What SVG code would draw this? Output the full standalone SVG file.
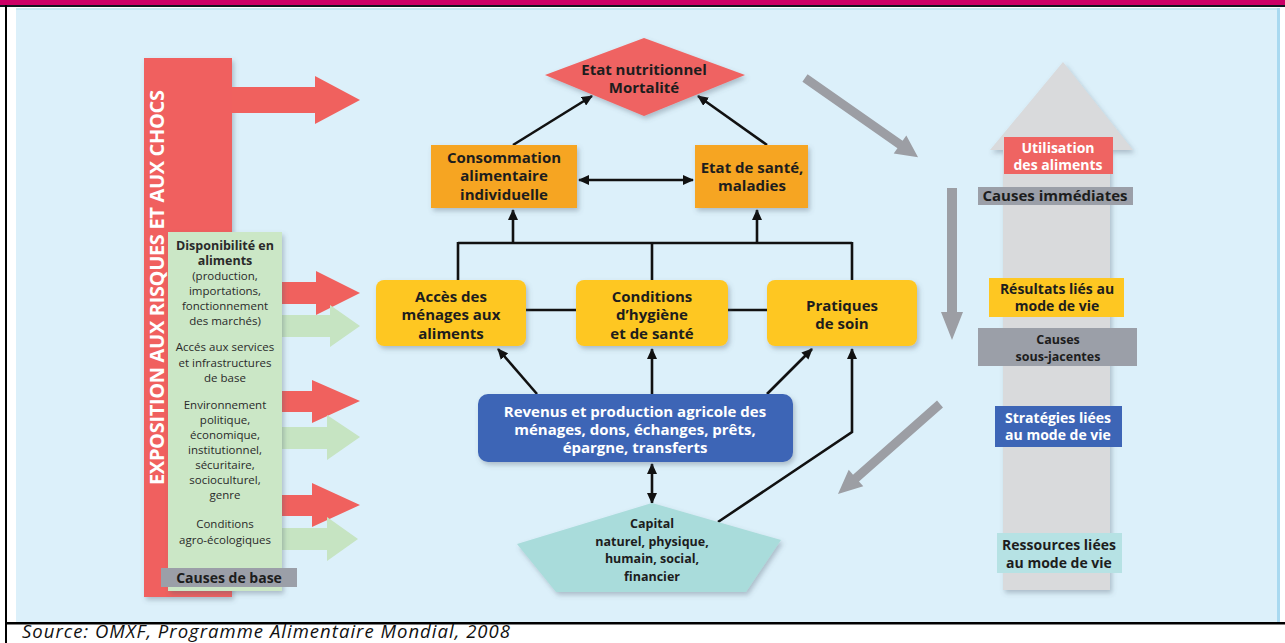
<svg xmlns="http://www.w3.org/2000/svg" width="1285" height="643" viewBox="0 0 1285 643">
<style>
.t{font-family:"Open Sans","Liberation Sans",sans-serif;font-weight:bold;font-size:15px;fill:#1d1d1d;text-anchor:middle}
.s{font-size:14px}
.w{fill:#ffffff}
.g{font-family:"Open Sans","Liberation Sans",sans-serif;font-size:11.5px;fill:#2a2a2a;text-anchor:middle}
.gb{font-weight:bold;font-size:12.5px}
.k{font-size:12.5px}
.c{stroke:#111;stroke-width:2.6;fill:none}
.red{fill:#f0615e}
.grn{fill:#c6e4c2}
.gar{fill:#9c9ea4}
</style>
<defs>
<marker id="ah" markerUnits="userSpaceOnUse" markerWidth="11" markerHeight="10" refX="10" refY="5" orient="auto-start-reverse">
<path d="M0,0 L11,5 L0,10 z" fill="#111"/>
</marker>
<filter id="sh" x="-10%" y="-10%" width="125%" height="130%">
<feDropShadow dx="2" dy="3" stdDeviation="2.5" flood-color="#506070" flood-opacity="0.35"/>
</filter>
</defs>

<!-- frame -->
<rect x="0" y="0" width="1285" height="5" fill="#cc0066"/>
<rect x="0" y="5" width="1285" height="2" fill="#101820"/>
<rect x="5" y="5" width="2" height="638" fill="#000"/>
<rect x="16" y="8" width="1264" height="614" fill="#dcf0fa"/>
<rect x="16" y="8" width="1264" height="2" fill="#c4e8f2"/>
<rect x="1277" y="8" width="3" height="614" fill="#a9d9f0"/>
<rect x="5" y="622" width="1280" height="2.5" fill="#000"/>
<text x="22" y="638" font-family="'Open Sans','Liberation Sans',sans-serif" font-style="italic" font-size="18.5" fill="#111" textLength="488">Source: OMXF, Programme Alimentaire Mondial, 2008</text>

<!-- left column -->
<g id="exposition">
<rect x="144" y="58" width="88" height="539" class="red" filter="url(#sh)"/>
<text transform="translate(164,287.5) rotate(-90)" font-family="'Open Sans','Liberation Sans',sans-serif" font-weight="bold" font-size="20" fill="#fff" text-anchor="middle" textLength="395">EXPOSITION AUX RISQUES ET AUX CHOCS</text>
</g>
<g id="arrows-left">
<polygon class="red" points="232,87 315,87 315,76 360,100 315,124 315,113 232,113"/>
<polygon class="red" points="282,282 316,282 316,271 360,293 316,315 316,304 282,304"/>
<polygon class="grn" points="282,315 330,315 330,305 360,326 330,347 330,337 282,337"/>
<polygon class="red" points="282,391 312,391 312,380 360,401 312,423 312,412 282,412"/>
<polygon class="grn" points="282,427 327,427 327,415 360,437 327,460 327,449 282,449"/>
<polygon class="red" points="282,495 312,495 312,483 360,505 312,527 312,516 282,516"/>
<polygon class="grn" points="282,528 327,528 327,517 358,539 327,561 327,550 282,550"/>
</g>
<g id="causes-base-box">
<rect x="168" y="232" width="114" height="359" fill="#cbe7c6" filter="url(#sh)"/>
<text class="g gb" x="225" y="250">Disponibilité en</text>
<text class="g gb" x="225" y="265">aliments</text>
<text class="g" x="225" y="280">(production,</text>
<text class="g" x="225" y="295">importations,</text>
<text class="g" x="225" y="310">fonctionnement</text>
<text class="g" x="225" y="325">des marchés)</text>
<text class="g" x="225" y="351">Accés aux services</text>
<text class="g" x="225" y="367">et infrastructures</text>
<text class="g" x="225" y="382">de base</text>
<text class="g" x="225" y="409">Environnement</text>
<text class="g" x="225" y="424">politique,</text>
<text class="g" x="225" y="439">économique,</text>
<text class="g" x="225" y="454">institutionnel,</text>
<text class="g" x="225" y="469">sécuritaire,</text>
<text class="g" x="225" y="484">socioculturel,</text>
<text class="g" x="225" y="499">genre</text>
<text class="g" x="225" y="528">Conditions</text>
<text class="g" x="225" y="544">agro-écologiques</text>
</g>
<g id="causes-de-base">
<rect x="161" y="568" width="136" height="19" fill="#9b9fa8"/>
<text class="t s" x="229" y="582.5">Causes de base</text>
</g>

<!-- connectors -->
<g id="connectors">
<line class="c" x1="513" y1="145" x2="592" y2="96" marker-end="url(#ah)"/>
<line class="c" x1="767" y1="145" x2="698" y2="96" marker-end="url(#ah)"/>
<line class="c" x1="579" y1="180" x2="693" y2="180" marker-start="url(#ah)" marker-end="url(#ah)"/>
<line class="c" x1="458" y1="243" x2="852" y2="243"/>
<line class="c" x1="513" y1="243" x2="513" y2="210" marker-end="url(#ah)"/>
<line class="c" x1="757" y1="243" x2="757" y2="210" marker-end="url(#ah)"/>
<line class="c" x1="458" y1="242" x2="458" y2="280"/>
<line class="c" x1="652" y1="242" x2="652" y2="280"/>
<line class="c" x1="852" y1="242" x2="852" y2="280"/>
<line class="c" x1="526" y1="310" x2="576" y2="310"/>
<line class="c" x1="728" y1="310" x2="767" y2="310"/>
<line class="c" x1="537" y1="394" x2="498" y2="349" marker-end="url(#ah)"/>
<line class="c" x1="652" y1="394" x2="652" y2="349" marker-end="url(#ah)"/>
<line class="c" x1="767" y1="394" x2="812" y2="349" marker-end="url(#ah)"/>
<polyline class="c" points="718,522 852,432 852,349" marker-end="url(#ah)"/>
<line class="c" x1="652" y1="464" x2="652" y2="503" marker-start="url(#ah)" marker-end="url(#ah)"/>
</g>

<!-- gray flow arrows -->
<g id="gray-arrows">
<path class="gar" d="M0,-4.5 L116,-4.5 L116,-11 L138,0 L116,11 L116,4.5 L0,4.5 z" transform="translate(805,78) rotate(35)"/>
<path class="gar" d="M0,-5 L124,-5 L124,-11 L152,0 L124,11 L124,5 L0,5 z" transform="translate(952,188) rotate(90)"/>
<path class="gar" d="M0,-4.5 L112,-4.5 L112,-11 L136,0 L112,11 L112,4.5 L0,4.5 z" transform="translate(940,404) rotate(138.6)"/>
</g>

<!-- big up arrow -->
<g id="big-up-arrow">
<polygon points="1003,590 1003,150 990,150 1063,62 1133,150 1110,150 1110,590" fill="#d9dadc" filter="url(#sh)"/>
</g>

<!-- central nodes -->
<g id="etat-nutritionnel">
<polygon points="644,38 745,75 644,116 545,75" fill="#ef6462" filter="url(#sh)"/>
<text class="t" x="644" y="75">Etat nutritionnel</text>
<text class="t" x="644" y="93">Mortalité</text>
</g>
<g id="consommation">
<rect x="431" y="145" width="146" height="63" fill="#f6a522" filter="url(#sh)"/>
<text class="t" x="504" y="163">Consommation</text>
<text class="t" x="504" y="181">alimentaire</text>
<text class="t" x="504" y="200">individuelle</text>
</g>
<g id="etat-sante">
<rect x="695" y="145" width="113" height="63" fill="#f6a522" filter="url(#sh)"/>
<text class="t" x="752" y="173">Etat de santé,</text>
<text class="t" x="752" y="191">maladies</text>
</g>
<g id="acces">
<rect x="376" y="280" width="150" height="66" rx="8" fill="#fec722" filter="url(#sh)"/>
<text class="t" x="451" y="302">Accès des</text>
<text class="t" x="451" y="320">ménages aux</text>
<text class="t" x="451" y="339">aliments</text>
</g>
<g id="conditions">
<rect x="576" y="280" width="152" height="66" rx="8" fill="#fec722" filter="url(#sh)"/>
<text class="t" x="652" y="302">Conditions</text>
<text class="t" x="652" y="320">d’hygiène</text>
<text class="t" x="652" y="339">et de santé</text>
</g>
<g id="pratiques">
<rect x="767" y="280" width="150" height="66" rx="8" fill="#fec722" filter="url(#sh)"/>
<text class="t" x="842" y="311">Pratiques</text>
<text class="t" x="842" y="329">de soin</text>
</g>
<g id="revenus">
<rect x="478" y="394" width="315" height="68" rx="10" fill="#3d65b6" filter="url(#sh)"/>
<text class="t w" x="635" y="417" font-size="14.5">Revenus et production agricole des</text>
<text class="t w" x="635" y="435" font-size="14.5">ménages, dons, échanges, prêts,</text>
<text class="t w" x="635" y="453" font-size="14.5">épargne, transferts</text>
</g>
<g id="capital">
<polygon points="517,544 652,503 781,540 746,592 556,592" fill="#a9dcdb" filter="url(#sh)"/>
<text class="t k" x="652" y="528">Capital</text>
<text class="t k" x="652" y="545.5">naturel, physique,</text>
<text class="t k" x="652" y="563">humain, social,</text>
<text class="t k" x="652" y="580.5">financier</text>
</g>

<!-- right labels -->
<g id="utilisation">
<rect x="1004" y="137" width="109" height="37" fill="#ef6462"/>
<text class="t w s" x="1058" y="153">Utilisation</text>
<text class="t w s" x="1058" y="170">des aliments</text>
</g>
<g id="causes-immediates">
<rect x="978" y="187" width="155" height="18" fill="#9b9fa8"/>
<text class="t" x="1055" y="201" font-size="13.5">Causes immédiates</text>
</g>
<g id="resultats">
<rect x="989" y="278" width="135" height="39" fill="#fec722"/>
<text class="t s" x="1057" y="294">Résultats liés au</text>
<text class="t s" x="1057" y="311">mode de vie</text>
</g>
<g id="causes-sous-jacentes">
<rect x="978" y="328" width="159" height="38" fill="#9b9fa8"/>
<text class="t k" x="1058" y="343.5">Causes</text>
<text class="t k" x="1058" y="361">sous-jacentes</text>
</g>
<g id="strategies">
<rect x="995" y="406" width="127" height="41" fill="#3d65b6"/>
<text class="t w s" x="1058" y="423">Stratégies liées</text>
<text class="t w s" x="1058" y="440">au mode de vie</text>
</g>
<g id="ressources">
<rect x="997" y="533" width="125" height="40" fill="#b6e2e4"/>
<text class="t s" x="1059" y="550">Ressources liées</text>
<text class="t s" x="1059" y="568">au mode de vie</text>
</g>
</svg>
